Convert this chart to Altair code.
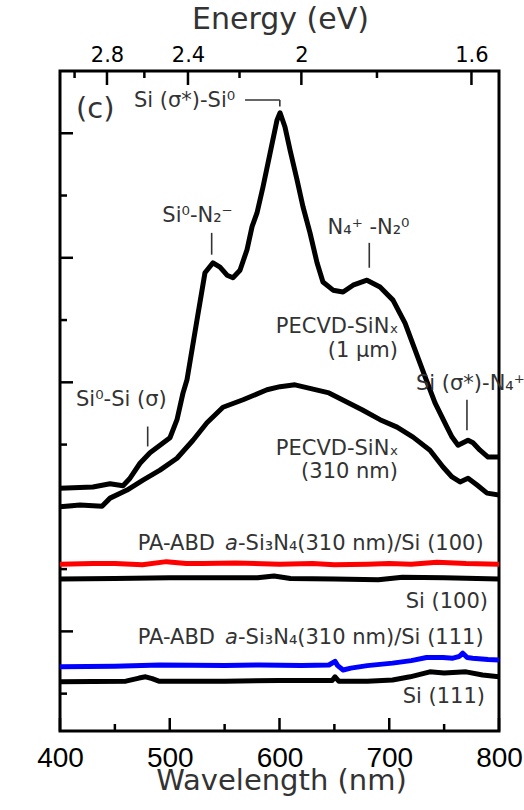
import altair as alt
import pandas as pd

# ---------------- data ----------------
wl_1um = [400, 430, 445.6, 457.4, 463.8, 472.9, 482, 491.1, 500.2, 506.6, 512.1, 515.7,
          524.8, 532.1, 539.4, 545.8, 552.2, 557.6, 564, 570.4, 575, 579.5, 585, 591.4,
          597.7, 600.5, 605, 609.6, 616, 621.4, 627.8, 634.2, 639.6, 648.8, 657.9, 667,
          679.7, 691.6, 703.4, 714.4, 723.5, 732.6, 741.7, 752.6, 757.2, 762.7, 771.8,
          776.3, 782.7, 790, 800]
pl_1um = [3.30, 3.32, 3.37, 3.34, 3.46, 3.70, 3.87, 3.99, 4.11, 4.40, 4.83, 5.04,
          6.00, 6.76, 6.92, 6.85, 6.72, 6.68, 6.80, 7.13, 7.50, 7.72, 8.14, 8.68,
          9.21, 9.33, 9.10, 8.73, 8.25, 7.82, 7.40, 6.92, 6.61, 6.48, 6.45, 6.56,
          6.64, 6.53, 6.32, 5.95, 5.52, 5.09, 4.67, 4.28, 4.12, 3.99, 4.07,
          4.03, 3.91, 3.80, 3.80]

wl_310 = [400, 418.2, 438.3, 445.6, 461.1, 475.6, 491.1, 506.6, 521.2, 533.9, 548.5,
          566.8, 588.6, 600.5, 614.1, 645.1, 675.2, 691.6, 707.1, 721.7, 737.1, 749,
          757.2, 764.5, 771.8, 780, 789.1, 800]
pl_310 = [3.00, 3.03, 3.01, 3.14, 3.27, 3.43, 3.59, 3.78, 4.07, 4.35, 4.60,
          4.72, 4.88, 4.93, 4.96, 4.83, 4.56, 4.40, 4.28, 4.12, 3.91, 3.64,
          3.48, 3.40, 3.46, 3.35, 3.22, 3.19]

wl_red = [400, 430, 450, 475, 497, 515, 530, 560, 600, 630, 650, 680, 700, 720, 743.5, 770, 800]
pl_red = [2.08, 2.09, 2.09, 2.07, 2.12, 2.09, 2.09, 2.10, 2.08, 2.09, 2.07, 2.08, 2.09, 2.08, 2.11, 2.09, 2.08]

wl_si100 = [400, 450, 500, 560, 580, 595, 610, 650, 690, 712, 750, 800]
pl_si100 = [1.84, 1.85, 1.86, 1.86, 1.86, 1.89, 1.85, 1.84, 1.83, 1.87, 1.86, 1.84]

wl_blue = [400, 450, 491, 550, 582, 620, 645, 650.6, 653, 658, 665, 680, 703, 720, 734,
           749, 758, 764, 767, 771, 776, 790, 800]
pl_blue = [0.43, 0.44, 0.46, 0.45, 0.46, 0.45, 0.46, 0.52, 0.45, 0.38, 0.41, 0.45, 0.49,
           0.53, 0.58, 0.58, 0.57, 0.60, 0.65, 0.58, 0.57, 0.55, 0.54]

wl_si111 = [400, 460, 472, 478, 484, 490, 550, 600, 648, 650.6, 654, 680, 703, 719, 737,
            750, 770, 785, 800]
pl_si111 = [0.19, 0.20, 0.25, 0.27, 0.24, 0.20, 0.20, 0.21, 0.21, 0.27, 0.20, 0.20, 0.22,
            0.27, 0.35, 0.33, 0.35, 0.30, 0.27]

series_names = ["PECVD 1 um", "PECVD 310 nm", "PA-ABD Si(100)", "Si(100)", "PA-ABD Si(111)", "Si(111)"]
series_colors = ["#000000", "#000000", "#ff0000", "#000000", "#0000ff", "#000000"]
series_widths = [5, 5, 6, 5, 6, 5]

x_ticks_major = [400, 500, 600, 700, 800]
x_ticks_minor = [450, 550, 650, 750]
energy_major = [2.8, 2.4, 2.0, 1.6]
energy_minor = [3.0, 2.6, 2.2, 1.8]
y_ticks_long = [1, 3, 5, 7, 9]
y_ticks_short = [0, 2, 4, 6, 8]

# ---------------- tables ----------------
rows = []
for name, wl, pl in zip(series_names,
                        [wl_1um, wl_310, wl_red, wl_si100, wl_blue, wl_si111],
                        [pl_1um, pl_310, pl_red, pl_si100, pl_blue, pl_si111]):
    for a, b in zip(wl, pl):
        rows.append({"series": name, "nm": a, "v": b})
lines_df = pd.DataFrame(rows)

HC = 1239.84
top_major_df = pd.DataFrame({"nm": [HC / e for e in energy_major]})
top_minor_df = pd.DataFrame({"nm": [HC / e for e in energy_minor]})

XS = alt.Scale(domain=[400, 800], nice=False, zero=False)
YS = alt.Scale(domain=[-0.6, 10], nice=False, zero=False)

TXT = "#333333"
AF = "DejaVu Sans"

lines = alt.Chart(lines_df).mark_line(clip=True, strokeJoin="round").encode(
    x=alt.X("nm:Q", scale=XS, axis=alt.Axis(
        orient="bottom", values=x_ticks_major, ticks=False, tickSize=0, domain=False, grid=False,
        labelFont="Liberation Sans", labelFontSize=28, labelColor="black",
        labelBaseline="alphabetic", labelPadding=35, labelFlush=False, labelOverlap=False,
        title="Wavelength (nm)", titleFont=AF, titleFontSize=29, titleColor=TXT,
        titleFontWeight="normal", titleBaseline="alphabetic", titleY=58, titleX=221)),
    y=alt.Y("v:Q", scale=YS, axis=alt.Axis(
        labels=False, ticks=False, tickSize=0, domain=False, grid=False,
        title="PL Intensity (a.u.)", titleFont=AF, titleFontSize=29, titleColor=TXT,
        titleFontWeight="normal", titleAngle=270, titleX=-23, titleY=331,
        titleBaseline="alphabetic", titleAlign="center")),
    color=alt.Color("series:N", scale=alt.Scale(domain=series_names, range=series_colors), legend=None),
    strokeWidth=alt.StrokeWidth("series:N", scale=alt.Scale(domain=series_names, range=series_widths), legend=None),
    detail="series:N",
)

tick_style = dict(color="black", strokeWidth=2.5)

bot_major = alt.Chart(pd.DataFrame({"nm": x_ticks_major})).mark_rule(**tick_style).encode(
    x=alt.X("nm:Q", scale=XS, axis=None), y=alt.value(660), y2=alt.value(647))
bot_minor = alt.Chart(pd.DataFrame({"nm": x_ticks_minor})).mark_rule(**tick_style).encode(
    x=alt.X("nm:Q", scale=XS, axis=None), y=alt.value(660), y2=alt.value(653))

top_major = alt.Chart(top_major_df).mark_rule(**tick_style).encode(
    x=alt.X("nm:Q", scale=XS, axis=alt.Axis(
        orient="top", values=[HC / e for e in energy_major], ticks=False, tickSize=0,
        domain=False, grid=False, labelExpr="round(12398.4/datum.value)/10",
        labelFont=AF, labelFontSize=21, labelColor="black", labelBaseline="alphabetic",
        labelPadding=10, labelFlush=False, labelOverlap=False,
        title="Energy (eV)", titleFont=AF, titleFontSize=30, titleColor=TXT,
        titleFontWeight="normal", titleBaseline="alphabetic", titleY=-43, titleX=220)),
    y=alt.value(0), y2=alt.value(14))
top_minor = alt.Chart(top_minor_df).mark_rule(**tick_style).encode(
    x=alt.X("nm:Q", scale=XS, axis=None), y=alt.value(0), y2=alt.value(7))

left_long = alt.Chart(pd.DataFrame({"v": y_ticks_long})).mark_rule(**tick_style).encode(
    y=alt.Y("v:Q", scale=YS, axis=None), x=alt.value(0), x2=alt.value(13))
left_short = alt.Chart(pd.DataFrame({"v": y_ticks_short})).mark_rule(**tick_style).encode(
    y=alt.Y("v:Q", scale=YS, axis=None), x=alt.value(0), x2=alt.value(7))

# ---------------- annotations ----------------
ann_left = pd.DataFrame({
    "text": ["(c)", "Si (σ*)-Si⁰", "Si⁰-Si (σ)", "Si (σ*)-N₄⁺",
             "-Si₃N₄(310 nm)/Si (100)", "-Si₃N₄(310 nm)/Si (111)"],
    "nm": [414.6, 467.4, 414.6, 724.4, 562.2, 562.2],
    "v": [9.25, 9.42, 4.62, 4.88, 2.30, 0.80],
    "size": [29, 21, 21, 21, 21, 21],
})
ann_right = pd.DataFrame({
    "text": ["PECVD-SiNₓ", "(1 μm)", "PECVD-SiNₓ", "(310 nm)", "Si (100)", "Si (111)",
             "PA-ABD", "PA-ABD"],
    "nm": [708.6, 708.0, 708.6, 708.0, 790.0, 787.2, 541.2, 541.2],
    "v": [5.79, 5.40, 3.83, 3.46, 1.37, -0.155, 2.30, 0.80],
})
ann_center = pd.DataFrame({
    "text": ["Si⁰-N₂⁻", "N₄⁺ -N₂⁰"],
    "nm": [525.3, 681.1],
    "v": [7.58, 7.39],
})
ann_italic = pd.DataFrame({"text": ["a", "a"], "nm": [556.3, 556.3], "v": [2.30, 0.80]})

ann_lines = pd.DataFrame({
    "nm": [568.6, 600.3, 538.2, 681.8, 770.8, 479.9],
    "nm2": [600.3, 600.3, 538.2, 681.8, 770.8, 479.9],
    "v": [9.535, 9.535, 7.40, 7.24, 4.72, 4.29],
    "v2": [9.535, 9.43, 7.05, 6.84, 4.23, 3.97],
})

def text_layer(df, align, style="normal", size=None):
    kw = dict(align=align, baseline="alphabetic", font=AF, color=TXT, fontStyle=style)
    if size is not None:
        kw["fontSize"] = size
    enc = dict(x=alt.X("nm:Q", scale=XS, axis=None), y=alt.Y("v:Q", scale=YS, axis=None),
               text="text:N")
    if size is None:
        enc["size"] = alt.Size("size:Q", scale=None, legend=None)
    return alt.Chart(df).mark_text(**kw).encode(**enc)

t_left = text_layer(ann_left, "left")
t_right = text_layer(ann_right, "right", size=21)
t_center = text_layer(ann_center, "center", size=21)
t_italic = text_layer(ann_italic, "center", style="italic", size=21)

a_lines = alt.Chart(ann_lines).mark_rule(color=TXT, strokeWidth=1.6).encode(
    x=alt.X("nm:Q", scale=XS, axis=None), x2="nm2:Q",
    y=alt.Y("v:Q", scale=YS, axis=None), y2="v2:Q")

chart = alt.layer(
    lines, bot_major, bot_minor, top_major, top_minor, left_long, left_short,
    a_lines, t_left, t_right, t_center, t_italic,
).resolve_axis(x="independent").properties(
    width=439, height=660,
    autosize=alt.AutoSizeParams(type="none"),
    padding={"left": 60, "top": 71, "right": 25, "bottom": 79},
    background="white",
).configure_view(stroke="black", strokeWidth=3)

chart.save("out.html", embed_options={"renderer": "svg", "actions": False})
